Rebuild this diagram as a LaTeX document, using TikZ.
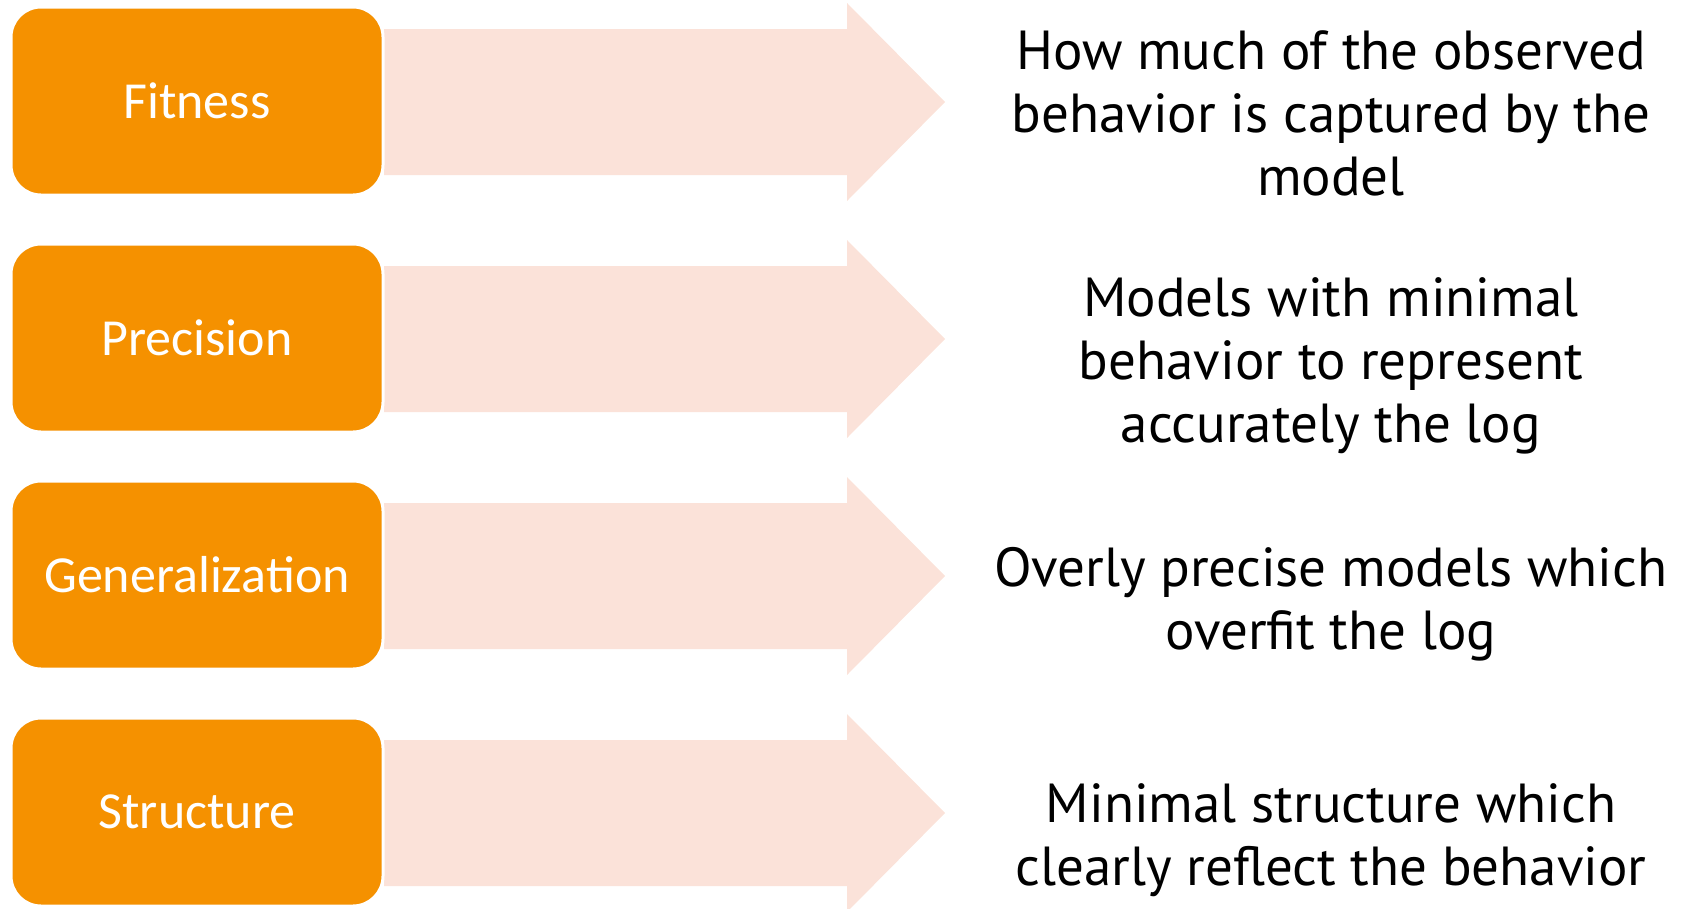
\documentclass[tikz,border=0pt]{standalone}
\usepackage{fontspec}
\setmainfont{PT Sans}
\newfontfamily\boxfont{Carlito}
\definecolor{orangebox}{HTML}{F59100}
\definecolor{pinkarrow}{HTML}{FBE2D9}
\begin{document}
\begin{tikzpicture}[x=1pt,y=-1pt,
  catbox/.style={rectangle, rounded corners=30pt, fill=orangebox, draw=white, line width=3pt,
    minimum width=372pt, minimum height=188pt, text=white, font=\boxfont\fontsize{52}{60}\selectfont, inner sep=0pt},
  desc/.style={align=center, font=\fontsize{55}{63}\selectfont, text=black, inner sep=0pt},
  arrowshape/.style={fill=pinkarrow, draw=none}]
\useasboundingbox (0,0) rectangle (1686,908);
\foreach \c/\n in {102/1,339/2,576/3,813/4}{
  \fill[arrowshape] (384,\c-73) -- (847,\c-73) -- (847,\c-99) -- (945,\c) -- (847,\c+99) -- (847,\c+73) -- (384,\c+73) -- cycle;
}
\node[catbox] (fit) at (197,101) {Fitness};
\node[catbox] (pre) at (197,338) {Precision};
\node[catbox] (gen) at (197,575) {Generalization};
\node[catbox] (str) at (197,812) {Structure};
\node[desc] (dfit) at (1331,113) {How much of the observed\\behavior is captured by the\\model};
\node[desc] (dpre) at (1331,366) {Models with minimal\\behavior to represent\\accurately the log};
\node[desc] (dgen) at (1331,604) {Overly precise models which\\overfit the log};
\node[desc] (dstr) at (1331,840) {Minimal structure which\\clearly reflect the behavior};
\end{tikzpicture}
\end{document}
